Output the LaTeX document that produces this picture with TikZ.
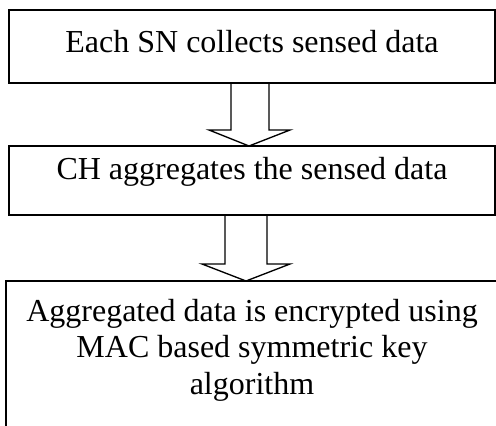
\documentclass[tikz,border=0pt]{standalone}
\usepackage{fontspec}
\setmainfont{Liberation Serif}
\usetikzlibrary{positioning,calc}

\begin{document}
\begin{tikzpicture}[
  x=0.75pt, y=-0.75pt,
  font=\fontsize{24}{27.5}\selectfont,
  box/.style={draw, line width=1.3pt, inner sep=0pt, outer sep=0pt},
  hollow/.style={draw, line width=1pt, line join=miter}
]
\useasboundingbox (0,0) rectangle (496,425);
\clip (0,0) rectangle (496,425);

% ---------------- steps ----------------
\node[box, anchor=north, minimum width=364.5pt, text height=31.5pt, text depth=23.25pt]
  (collect) at (252,10) {Each SN collects sensed data};
\node[box, below=47.25pt of collect, minimum width=364.5pt, text height=24.75pt, text depth=27pt]
  (aggr) {CH aggregates the sensed data};
\node[box, below=49.5pt of aggr, minimum width=369pt, text height=30pt, text depth=89.25pt]
  (encrypt) {\begin{tabular}[t]{@{}c@{}}Aggregated data is encrypted using\\
    MAC based symmetric key\\ algorithm\end{tabular}};

% ---------------- block arrows ----------------
\draw[hollow] ($(collect.south)+(-21,0)$) |- ++(-22,47) -- ($(aggr.north)+(-3,0)$)
  -- ++(41,-16) -| ($(collect.south)+(17,0)$);
\draw[hollow] ($(aggr.south)+(-27,0)$) |- ++(-23,49) -- ($(encrypt.north)+(-6,0)$)
  -- ++(44,-17) -| ($(aggr.south)+(15,0)$);

\end{tikzpicture}
\end{document}
